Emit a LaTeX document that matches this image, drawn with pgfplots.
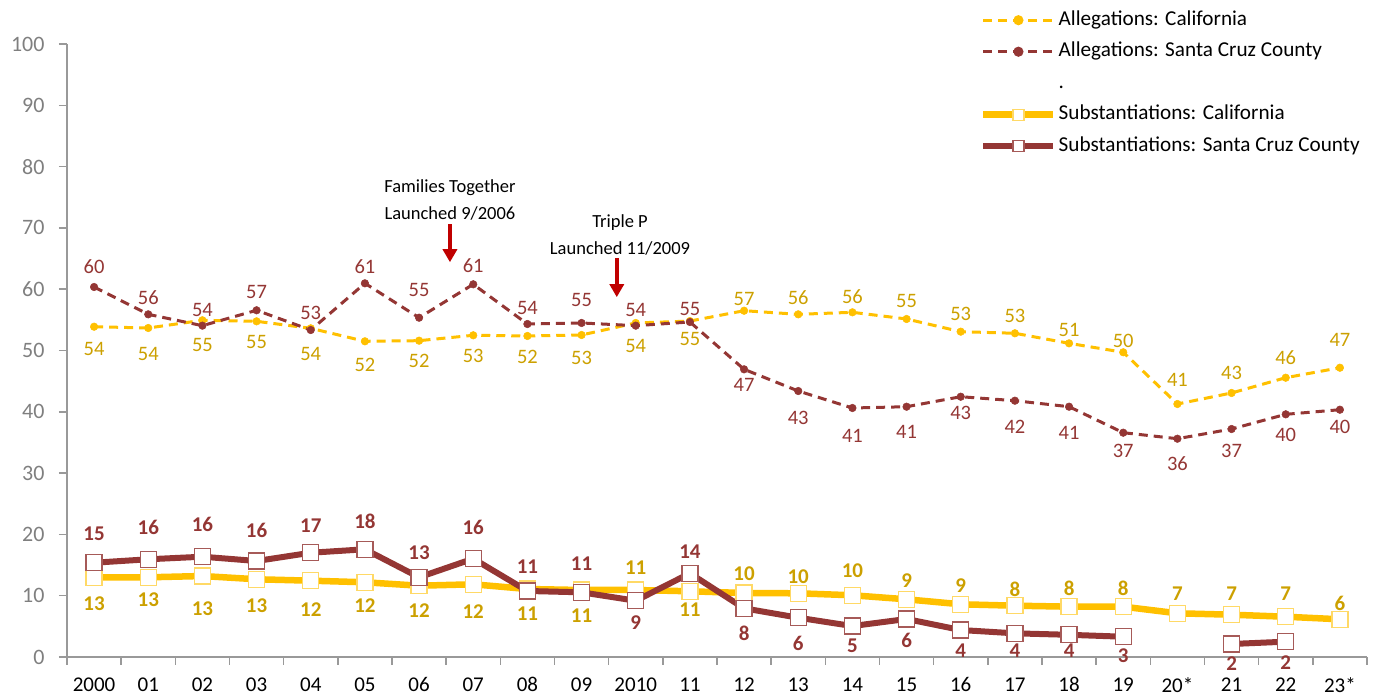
\documentclass[border=0pt]{standalone}
\usepackage{fontspec}
\setmainfont{Carlito}
\usepackage{pgfplots}
\pgfplotsset{compat=1.18}
\usepackage{pgfplotstable}
\usetikzlibrary{arrows.meta}

\definecolor{gold}{HTML}{FFC000}
\definecolor{goldtxt}{HTML}{CCA000}
\definecolor{scc}{HTML}{943634}
\definecolor{sccedge}{HTML}{A65A58}
\definecolor{goldedge}{HTML}{FFD966}
\definecolor{axgray}{HTML}{999999}
\definecolor{tickgray}{HTML}{7F7F7F}
\definecolor{arrowred}{HTML}{C00000}

% Allegations: California
\pgfplotstableread{
x y lab dy
0 53.88 54 -22
1 53.67 54 -26
2 54.93 55 -25
3 54.76 55 -21
4 53.62 54 -26
5 51.50 52 -24
6 51.60 52 -20
7 52.48 53 -21
8 52.37 52 -21
9 52.53 53 -23
10 54.49 54 -23
11 54.80 55 -18
12 56.49 57 12
13 55.90 56 17
14 56.23 56 16
15 55.14 55 18
16 53.07 53 18
17 52.81 53 17
18 51.17 51 13
19 49.71 50 11
20 41.27 41 24
21 43.07 43 20
22 45.56 46 20
23 47.19 47 28
}\allCA

% Allegations: Santa Cruz County
\pgfplotstableread{
x y lab dy
0 60.36 60 20
1 55.90 56 17
2 54.05 54 16
3 56.56 57 18
4 53.34 53 17
5 60.96 61 17
6 55.35 55 28
7 60.80 61 19
8 54.32 54 16
9 54.49 55 23
10 54.05 54 16
11 54.65 55 13
12 46.93 47 -16
13 43.39 43 -27
14 40.62 41 -28
15 40.83 41 -25
16 42.46 43 -16
17 41.81 42 -26
18 40.83 41 -26
19 36.59 37 -18
20 35.61 36 -25
21 37.19 37 -22
22 39.59 40 -21
23 40.34 40 -17
}\allSC

% Substantiations: California
\pgfplotstableread{
x y lab dy
0 13.00 13 -26
1 13.00 13 -22
2 13.21 13 -33
3 12.68 13 -26
4 12.45 12 -29
5 12.19 12 -23
6 11.63 12 -25
7 11.86 12 -27
8 11.09 11 -25
9 10.93 11 -26
10 10.93 11 22
11 10.72 11 -18
12 10.44 10 19
13 10.39 10 17
14 10.07 10 25
15 9.41 9 19
16 8.60 9 19
17 8.37 8 16
18 8.21 8 18
19 8.21 8 18
20 7.13 7 20
21 6.90 7 21
22 6.57 7 23
23 6.15 6 16
}\subCA

% Substantiations: Santa Cruz County
\pgfplotstableread{
x y lab dy
0 15.38 15 29
1 15.94 16 32
2 16.36 16 32
3 15.66 16 31
4 17.01 17 27
5 17.57 18 28
6 13.00 13 25
7 16.04 16 31
8 10.77 11 24
9 10.55 11 29
10 9.18 9 -22
11 13.65 14 22
12 7.94 8 -25
13 6.41 6 -26
14 5.05 5 -20
15 6.20 6 -21
16 4.40 4 -21
17 3.86 4 -17
18 3.62 4 -16
19 3.31 3 -19
20 nan nan 0
21 2.12 2 -20
22 2.50 2 -21
}\subSC

\begin{document}
\begin{tikzpicture}
\useasboundingbox (-67pt,-39pt) rectangle (1315pt,657pt);
\begin{axis}[
  at={(0pt,0pt)}, anchor=south west,
  scale only axis, width=1300pt, height=613pt,
  xmin=-0.5, xmax=23.5, ymin=0, ymax=100,
  clip=false,
  axis lines=left,
  axis line style={-, draw=axgray, line width=1.5pt},
  tick align=outside,
  major tick length=8pt, minor tick length=8pt,
  tick style={draw=axgray, line width=1.5pt},
  major x tick style={draw=none},
  xtick={0,...,23},
  minor xtick={-0.5,0.5,...,23.5},
  xticklabels={2000,01,02,03,04,05,06,07,08,09,2010,11,12,13,14,15,16,17,18,19,20*,21,22,23*},
  xticklabel style={font=\fontsize{21}{25}\selectfont, text=black, yshift=-9pt},
  ytick={0,10,...,100},
  yticklabel style={font=\fontsize{22}{26}\selectfont, text=tickgray, xshift=-11pt},
  /pgf/number format/assume math mode=true,
  unbounded coords=jump,
  legend cell align=left,
  legend style={at={(0.7023,1.0587)}, anchor=north west, draw=none, fill=none,
    font=\fontsize{21.2}{25}\selectfont, inner sep=0pt, row sep=7.5pt,
    nodes={inner sep=2pt, text height=15pt, text depth=5pt}},
  legend image code/.code={\draw[mark repeat=2,mark phase=2,#1] plot coordinates {(0pt,0pt) (35pt,0pt) (70pt,0pt)};},
]
\addplot[forget plot, draw=gold, line width=3pt, dash pattern=on 9pt off 6pt,
  mark=*, mark size=3.8pt, mark options={solid, fill=gold, draw=gold, line width=0.5pt},
  point meta=explicit, nodes near coords,
  visualization depends on={\thisrow{dy} \as \dy},
  every node near coord/.append style={anchor=center, yshift=\dy pt, font=\fontsize{20.5}{24}\selectfont, text=goldtxt}]
  table[x=x, y=y, meta=lab] {\allCA};
\addplot[forget plot, draw=scc, line width=3pt, dash pattern=on 9pt off 6pt,
  mark=*, mark size=3.8pt, mark options={solid, fill=scc, draw=scc, line width=0.5pt},
  point meta=explicit, nodes near coords,
  visualization depends on={\thisrow{dy} \as \dy},
  every node near coord/.append style={anchor=center, yshift=\dy pt, font=\fontsize{20.5}{24}\selectfont, text=scc}]
  table[x=x, y=y, meta=lab] {\allSC};
\addplot[forget plot, draw=gold, line width=6.5pt,
  mark=square*, mark size=8pt, mark options={solid, fill=white, draw=goldedge, line width=1.2pt},
  point meta=explicit, nodes near coords,
  visualization depends on={\thisrow{dy} \as \dy},
  every node near coord/.append style={anchor=center, yshift=\dy pt, font=\bfseries\fontsize{21}{25}\selectfont, text=goldtxt}]
  table[x=x, y=y, meta=lab] {\subCA};
\addplot[forget plot, draw=scc, line width=6pt,
  mark=square*, mark size=8pt, mark options={solid, fill=white, draw=sccedge, line width=1.2pt},
  point meta=explicit, nodes near coords,
  visualization depends on={\thisrow{dy} \as \dy},
  every node near coord/.append style={anchor=center, yshift=\dy pt, font=\bfseries\fontsize{21}{25}\selectfont, text=scc}]
  table[x=x, y=y, meta=lab] {\subSC};

\addlegendimage{draw=gold, line width=3pt, dash pattern=on 9pt off 6pt, mark=*, mark size=3.5pt, mark options={solid, fill=gold, draw=gold}}
\addlegendentry{Allegations: California}
\addlegendimage{draw=scc, line width=3pt, dash pattern=on 9pt off 6pt, mark=*, mark size=3.5pt, mark options={solid, fill=scc, draw=scc}}
\addlegendentry{Allegations: Santa Cruz County}
\addlegendimage{empty legend}
\addlegendentry{.}
\addlegendimage{draw=gold, line width=6.5pt, mark=square*, mark size=5.5pt, mark options={solid, fill=white, draw=goldedge, line width=1.2pt}}
\addlegendentry{Substantiations: California}
\addlegendimage{draw=scc, line width=6pt, mark=square*, mark size=5.5pt, mark options={solid, fill=white, draw=sccedge, line width=1.2pt}}
\addlegendentry{Substantiations: Santa Cruz County}

\node[align=center, font=\fontsize{18.5}{27}\selectfont] at (axis cs:6.57,74.5) {Families Together\\Launched 9/2006};
\draw[arrowred, line width=3.5pt, -{Triangle[width=14pt,length=13pt]}] (axis cs:6.57,70.6) -- (axis cs:6.57,64.4);
\node[align=center, font=\fontsize{18.5}{27}\selectfont] at (axis cs:9.71,68.8) {Triple P\\Launched 11/2009};
\draw[arrowred, line width=3.5pt, -{Triangle[width=14pt,length=13pt]}] (axis cs:9.65,65.1) -- (axis cs:9.65,58.7);
\end{axis}
\end{tikzpicture}
\end{document}
